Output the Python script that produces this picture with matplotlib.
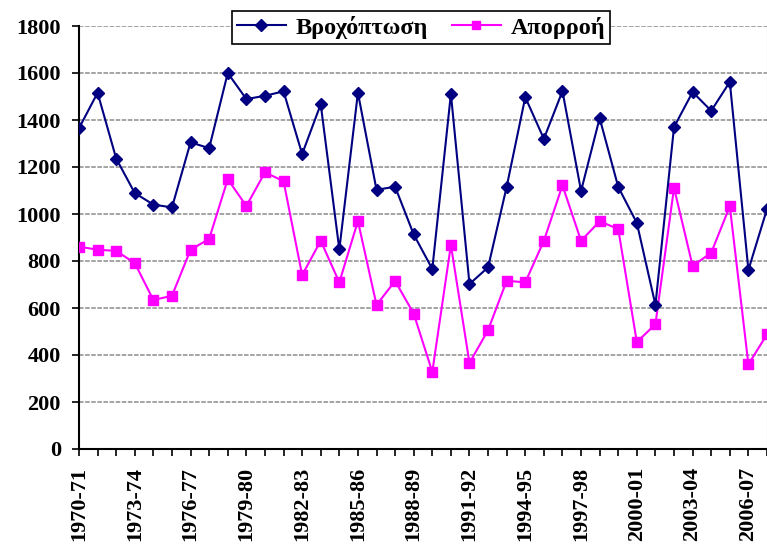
import matplotlib.pyplot as plt
from matplotlib.lines import Line2D

years = [f"{y}-{str(y + 1)[-2:]}" for y in range(1970, 2008)]

rainfall = [1365, 1516, 1236, 1089, 1040, 1028, 1305, 1280, 1600, 1489,
            1503, 1522, 1255, 1467, 849, 1516, 1103, 1116, 913, 766,
            1511, 702, 773, 1116, 1497, 1320, 1523, 1098, 1408, 1115,
            962, 613, 1370, 1519, 1439, 1562, 762, 1021]

runoff = [861, 848, 843, 791, 634, 652, 848, 894, 1148, 1034,
          1177, 1140, 740, 886, 709, 970, 613, 715, 576, 328,
          868, 366, 506, 716, 709, 886, 1122, 886, 969, 936,
          455, 531, 1111, 779, 835, 1033, 360, 488]

plt.rcParams["font.family"] = ["Liberation Serif", "DejaVu Serif"]
plt.rcParams["font.weight"] = "bold"

fig = plt.figure(figsize=(7.67, 5.47), dpi=100)
ax = fig.add_axes([79 / 767, 1 - 449 / 547, 1 - 79 / 767, 423 / 547])

x = list(range(len(years)))
ax.plot(x, rainfall, color="#000080", linewidth=1.5, marker="D", markersize=6.5,
        zorder=4)
ax.plot(x, runoff, color="#FF00FF", linewidth=1.5, marker="s", markersize=7,
        zorder=3)

ax.set_xlim(0, len(years) - 1)
ax.set_ylim(0, 1800)
ax.set_yticks(range(0, 1801, 200))
ax.set_xticks(x)
ax.set_xticklabels([y if i % 3 == 0 else "" for i, y in enumerate(years)],
                   rotation=90, fontsize=16, fontweight="bold")
ax.tick_params(axis="y", labelsize=16, length=5, width=1.2, pad=8, direction="out")
ax.tick_params(axis="x", length=5, width=1.2, pad=8, direction="out")
for lab in ax.get_yticklabels():
    lab.set_fontweight("bold")

ax.grid(axis="y", color="#8c8c8c", linestyle=(0, (3, 1)), linewidth=1.1, zorder=0)
ax.set_axisbelow(True)
ax.spines["top"].set_visible(False)
ax.spines["right"].set_color("#bbbbbb")
ax.spines["left"].set_linewidth(1.5)
ax.spines["bottom"].set_linewidth(1.5)

handles = [
    Line2D([], [], color="#000080", linewidth=1.5, marker="D", markersize=6),
    Line2D([], [], color="#FF00FF", linewidth=1.5, marker="s", markersize=6),
]
leg = fig.legend(handles, ["Βροχόπτωση", "Απορροή"], ncol=2,
                 loc="upper center", bbox_to_anchor=(421 / 767, 1 - 11 / 547),
                 borderaxespad=0, frameon=True, fancybox=False,
                 edgecolor="black", framealpha=1,
                 borderpad=0.2, handlelength=2.0, columnspacing=1.0,
                 handletextpad=0.4, prop={"size": 17.5, "weight": "bold"})
leg.get_frame().set_linewidth(1.2)

fig.savefig("out.png", dpi=100)
